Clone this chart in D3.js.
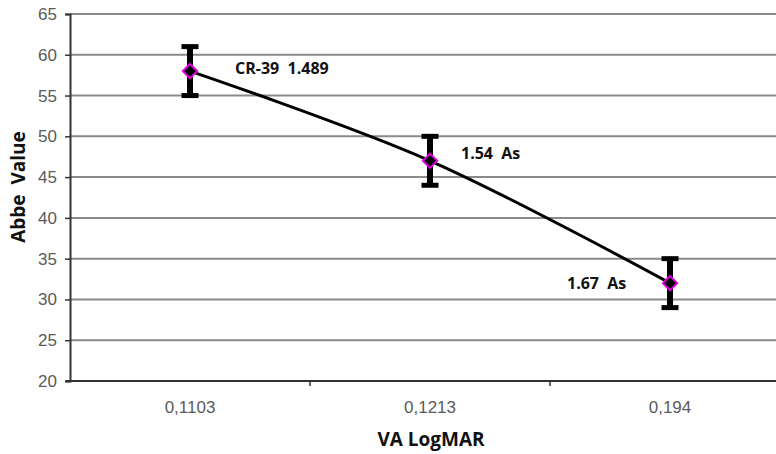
<!DOCTYPE html>
<head>
<meta charset="utf-8">
<style>
body { margin: 0; background: #fff; }
.tick text, .xlab { font: 17px "Liberation Sans", Arial, sans-serif; fill: #5a5a5a; }
.lbl { font: bold 16px "Open Sans", "Noto Sans", sans-serif; fill: #111; white-space: pre; }
.title { font: bold 19px "Open Sans", "Noto Sans", sans-serif; fill: #111; white-space: pre; }
</style>
</head>
<body>
<svg width="776" height="454"></svg>
<script src="https://d3js.org/d3.v7.min.js"></script>
<script>
var categories = ["0,1103", "0,1213", "0,194"];
var abbe = [58, 47, 32];
var errPlus = [3, 3, 3];
var labels = ["CR-39  1.489", "1.54  As", "1.67  As"];
var yTicks = [20, 25, 30, 35, 40, 45, 50, 55, 60, 65];

var svg = d3.select("svg");
var mLeft = 70, mTop = 14, mBottom = 381, mRight = 790;

var x = d3.scaleBand().domain(categories).range([mLeft, mRight]).padding(0);
var y = d3.scaleLinear().domain([20, 65]).range([mBottom, mTop]);

// gridlines
svg.append("g").selectAll("line")
  .data(yTicks.slice(1))
  .enter().append("line")
    .attr("x1", mLeft).attr("x2", 776)
    .attr("y1", function(d) { return y(d); })
    .attr("y2", function(d) { return y(d); })
    .attr("stroke", "#8a8a8a")
    .attr("stroke-width", 2);

// y axis
var yAxis = svg.append("g")
    .attr("transform", "translate(" + mLeft + ",0)")
    .call(d3.axisLeft(y).tickValues(yTicks).tickSize(5).tickPadding(8));
yAxis.select(".domain").attr("stroke", "#333").attr("stroke-width", 2);
yAxis.selectAll(".tick line").attr("stroke", "#333").attr("stroke-width", 1.5);

// x axis, ticks on the band edges
var xAxis = svg.append("g")
    .attr("transform", "translate(0," + mBottom + ")");
xAxis.append("line")
    .attr("x1", mLeft - 4).attr("x2", 776)
    .attr("stroke", "#333").attr("stroke-width", 2);
xAxis.selectAll(".edge")
  .data(categories.slice(1))
  .enter().append("line")
    .attr("class", "edge")
    .attr("x1", function(d) { return x(d); })
    .attr("x2", function(d) { return x(d); })
    .attr("y2", 5)
    .attr("stroke", "#333").attr("stroke-width", 1.5);
xAxis.selectAll("text")
  .data(categories)
  .enter().append("text")
    .attr("class", "xlab")
    .attr("x", function(d) { return x(d) + x.bandwidth() / 2; })
    .attr("y", 32)
    .attr("text-anchor", "middle")
    .text(function(d) { return d; });

var pts = categories.map(function(c, i) {
  return { x: x(c) + x.bandwidth() / 2, v: abbe[i], e: errPlus[i], label: labels[i] };
});

// label box for the first label hides the gridline
svg.append("rect")
    .attr("x", 233).attr("y", y(60) + 1.5)
    .attr("width", 153).attr("height", 24)
    .attr("fill", "#fff");

// smoothed line
var line = d3.line()
    .x(function(d) { return d.x; })
    .y(function(d) { return y(d.v); })
    .curve(d3.curveCatmullRom.alpha(0.5));
svg.append("path")
    .datum(pts)
    .attr("d", line)
    .attr("fill", "none")
    .attr("stroke", "#000")
    .attr("stroke-width", 3);

// error bars
var eb = svg.append("g").selectAll("g").data(pts).enter().append("g");
eb.append("line")
    .attr("x1", function(d) { return d.x; }).attr("x2", function(d) { return d.x; })
    .attr("y1", function(d) { return y(d.v + d.e); })
    .attr("y2", function(d) { return y(d.v - d.e); })
    .attr("stroke", "#000").attr("stroke-width", 6);
[1, -1].forEach(function(s) {
  eb.append("line")
      .attr("x1", function(d) { return d.x - 8.5; }).attr("x2", function(d) { return d.x + 8.5; })
      .attr("y1", function(d) { return y(d.v + s * d.e); })
      .attr("y2", function(d) { return y(d.v + s * d.e); })
      .attr("stroke", "#000").attr("stroke-width", 5);
});

// markers
svg.append("g").selectAll("path")
  .data(pts)
  .enter().append("path")
    .attr("transform", function(d) { return "translate(" + d.x + "," + y(d.v) + ")"; })
    .attr("d", d3.symbol().type(d3.symbolDiamond2).size(130))
    .attr("fill", "#000")
    .attr("stroke", "#e000e0")
    .attr("stroke-width", 2);

// point labels
var offs = [[45, -3], [31, -7], [-103, 0]];
svg.append("g").selectAll("text")
  .data(pts)
  .enter().append("text")
    .attr("class", "lbl")
    .attr("x", function(d, i) { return d.x + offs[i][0]; })
    .attr("y", function(d, i) { return y(d.v) + offs[i][1]; })
    .attr("dy", "0.35em")
    .text(function(d) { return d.label; });

// axis titles
svg.append("text")
    .attr("class", "title")
    .attr("transform", "translate(25,187) rotate(-90)")
    .attr("text-anchor", "middle")
    .text("Abbe  Value");
svg.append("text")
    .attr("class", "title")
    .attr("x", 431).attr("y", 446)
    .attr("text-anchor", "middle")
    .text("VA LogMAR");
</script>
</body>
